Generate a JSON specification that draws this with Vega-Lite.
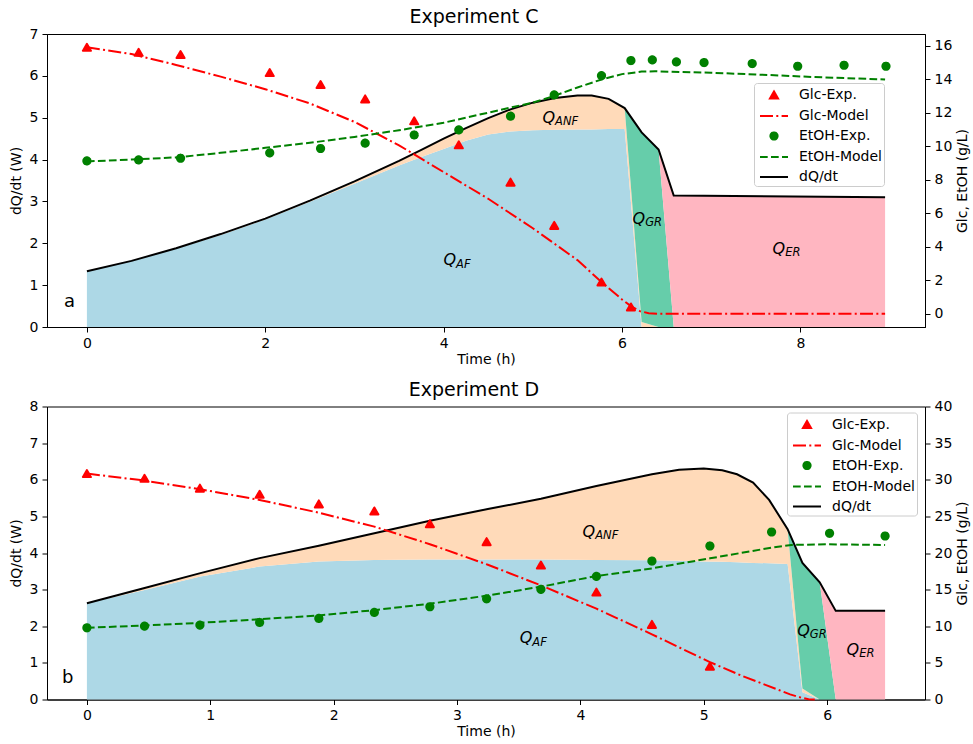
{
  "$schema": "https://vega.github.io/schema/vega-lite/v6.json",
  "background": "white",
  "padding": {"left": 8, "top": 7, "right": 0, "bottom": 0},
  "spacing": 12.5,
  "config": {
    "font": "DejaVu Sans",
    "view": {"stroke": "black", "strokeWidth": 1},
    "axis": {"domainColor": "black", "tickColor": "black", "labelColor": "black", "titleColor": "black", "labelFontSize": 14, "titleFontSize": 14, "titleFontWeight": "normal", "tickSize": 5, "labelPadding": 4, "titlePadding": 6, "grid": false, "domainWidth": 1, "tickWidth": 1},
    "axisX": {"titlePadding": 2},
    "title": {"fontSize": 19, "fontWeight": "normal", "color": "black"},
    "legend": {"title": null, "fillColor": "rgba(255,255,255,0.8)", "strokeColor": "#cccccc", "cornerRadius": 3, "padding": 2, "labelFontSize": 14, "labelColor": "black", "symbolSize": 324, "symbolStrokeWidth": 2, "symbolOffset": 8, "labelOffset": 15, "rowPadding": 3}
  },
  "datasets": {
    "c_area": [
      {"t": 0, "af": 1.33, "anf": 1.33, "gr": 1.33, "dq": 1.33},
      {"t": 0.5, "af": 1.58, "anf": 1.58, "gr": 1.58, "dq": 1.58},
      {"t": 1.0, "af": 1.87, "anf": 1.88, "gr": 1.88, "dq": 1.88},
      {"t": 1.5, "af": 2.2, "anf": 2.22, "gr": 2.22, "dq": 2.22},
      {"t": 2.0, "af": 2.57, "anf": 2.59, "gr": 2.59, "dq": 2.59},
      {"t": 2.5, "af": 2.99, "anf": 3.02, "gr": 3.02, "dq": 3.02},
      {"t": 3.0, "af": 3.42, "anf": 3.48, "gr": 3.48, "dq": 3.48},
      {"t": 3.5, "af": 3.86, "anf": 3.97, "gr": 3.97, "dq": 3.97},
      {"t": 3.75, "af": 4.06, "anf": 4.23, "gr": 4.23, "dq": 4.23},
      {"t": 4.0, "af": 4.25, "anf": 4.5, "gr": 4.5, "dq": 4.5},
      {"t": 4.25, "af": 4.45, "anf": 4.75, "gr": 4.75, "dq": 4.75},
      {"t": 4.5, "af": 4.6, "anf": 4.99, "gr": 4.99, "dq": 4.99},
      {"t": 4.75, "af": 4.67, "anf": 5.2, "gr": 5.2, "dq": 5.2},
      {"t": 5.0, "af": 4.7, "anf": 5.36, "gr": 5.36, "dq": 5.36},
      {"t": 5.25, "af": 4.71, "anf": 5.47, "gr": 5.47, "dq": 5.47},
      {"t": 5.5, "af": 4.72, "anf": 5.53, "gr": 5.53, "dq": 5.53},
      {"t": 5.66, "af": 4.72, "anf": 5.53, "gr": 5.53, "dq": 5.53},
      {"t": 5.85, "af": 4.73, "anf": 5.45, "gr": 5.45, "dq": 5.45},
      {"t": 6.03, "af": 4.73, "anf": 5.23, "gr": 5.23, "dq": 5.23},
      {"t": 6.22, "af": 0, "anf": 0.12, "gr": 4.65, "dq": 4.65},
      {"t": 6.41, "af": 0, "anf": 0, "gr": 4.24, "dq": 4.24},
      {"t": 6.58, "af": 0, "anf": 0, "gr": 0, "dq": 3.14},
      {"t": 8.95, "af": 0, "anf": 0, "gr": 0, "dq": 3.1}
    ],
    "c_glc_model": [
      {"t": 0, "v": 15.9}, {"t": 0.5, "v": 15.5}, {"t": 1.0, "v": 14.85}, {"t": 1.5, "v": 14.15},
      {"t": 2.0, "v": 13.4}, {"t": 2.5, "v": 12.55}, {"t": 3.0, "v": 11.45}, {"t": 3.5, "v": 10.05},
      {"t": 4.0, "v": 8.45}, {"t": 4.5, "v": 6.86}, {"t": 5.0, "v": 5.1}, {"t": 5.5, "v": 3.2},
      {"t": 5.77, "v": 1.89}, {"t": 6.0, "v": 0.85}, {"t": 6.1, "v": 0.45}, {"t": 6.2, "v": 0.15},
      {"t": 6.3, "v": 0.03}, {"t": 6.4, "v": 0}, {"t": 8.95, "v": 0}
    ],
    "c_etoh_model": [
      {"t": 0, "v": 9.09}, {"t": 0.5, "v": 9.2}, {"t": 1.0, "v": 9.33}, {"t": 1.5, "v": 9.6},
      {"t": 2.0, "v": 9.9}, {"t": 2.5, "v": 10.2}, {"t": 3.0, "v": 10.55}, {"t": 3.5, "v": 10.95},
      {"t": 4.0, "v": 11.4}, {"t": 4.5, "v": 12.0}, {"t": 5.0, "v": 12.6}, {"t": 5.24, "v": 13.0},
      {"t": 5.5, "v": 13.5}, {"t": 5.77, "v": 13.98}, {"t": 6.0, "v": 14.3}, {"t": 6.22, "v": 14.45},
      {"t": 6.37, "v": 14.47}, {"t": 7.0, "v": 14.38}, {"t": 7.5, "v": 14.28}, {"t": 8.13, "v": 14.13},
      {"t": 8.95, "v": 13.98}
    ],
    "c_exp": [
      {"t": 0, "v": 15.9, "series": "Glc-Exp."},
      {"t": 0.58, "v": 15.6, "series": "Glc-Exp."},
      {"t": 1.05, "v": 15.47, "series": "Glc-Exp."},
      {"t": 2.05, "v": 14.39, "series": "Glc-Exp."},
      {"t": 2.62, "v": 13.68, "series": "Glc-Exp."},
      {"t": 3.12, "v": 12.82, "series": "Glc-Exp."},
      {"t": 3.67, "v": 11.51, "series": "Glc-Exp."},
      {"t": 4.17, "v": 10.08, "series": "Glc-Exp."},
      {"t": 4.75, "v": 7.85, "series": "Glc-Exp."},
      {"t": 5.24, "v": 5.27, "series": "Glc-Exp."},
      {"t": 5.77, "v": 1.89, "series": "Glc-Exp."},
      {"t": 6.1, "v": 0.4, "series": "Glc-Exp."},
      {"t": 0, "v": 9.12, "series": "EtOH-Exp."},
      {"t": 0.58, "v": 9.18, "series": "EtOH-Exp."},
      {"t": 1.05, "v": 9.28, "series": "EtOH-Exp."},
      {"t": 2.05, "v": 9.6, "series": "EtOH-Exp."},
      {"t": 2.62, "v": 9.86, "series": "EtOH-Exp."},
      {"t": 3.12, "v": 10.18, "series": "EtOH-Exp."},
      {"t": 3.67, "v": 10.67, "series": "EtOH-Exp."},
      {"t": 4.17, "v": 10.97, "series": "EtOH-Exp."},
      {"t": 4.75, "v": 11.79, "series": "EtOH-Exp."},
      {"t": 5.24, "v": 13.06, "series": "EtOH-Exp."},
      {"t": 5.77, "v": 14.21, "series": "EtOH-Exp."},
      {"t": 6.1, "v": 15.11, "series": "EtOH-Exp."},
      {"t": 6.34, "v": 15.15, "series": "EtOH-Exp."},
      {"t": 6.61, "v": 15.03, "series": "EtOH-Exp."},
      {"t": 6.92, "v": 14.99, "series": "EtOH-Exp."},
      {"t": 7.46, "v": 14.93, "series": "EtOH-Exp."},
      {"t": 7.97, "v": 14.77, "series": "EtOH-Exp."},
      {"t": 8.49, "v": 14.83, "series": "EtOH-Exp."},
      {"t": 8.96, "v": 14.77, "series": "EtOH-Exp."}
    ],
    "c_labels": [
      {"t": 4.14, "v": 1.47, "q": "Q", "sub": "AF"},
      {"t": 5.25, "v": 4.88, "q": "Q", "sub": "ANF"},
      {"t": 6.26, "v": 2.47, "q": "Q", "sub": "GR"},
      {"t": 7.83, "v": 1.75, "q": "Q", "sub": "ER"}
    ],
    "c_letter": [{"t": -0.194, "v": 0.477, "txt": "a"}],
    "d_area": [
      {"t": 0, "af": 2.63, "anf": 2.63, "gr": 2.63, "dq": 2.63},
      {"t": 0.46, "af": 2.98, "anf": 3.04, "gr": 3.04, "dq": 3.04},
      {"t": 0.92, "af": 3.36, "anf": 3.45, "gr": 3.45, "dq": 3.45},
      {"t": 1.4, "af": 3.63, "anf": 3.86, "gr": 3.86, "dq": 3.86},
      {"t": 1.88, "af": 3.77, "anf": 4.2, "gr": 4.2, "dq": 4.2},
      {"t": 2.33, "af": 3.81, "anf": 4.54, "gr": 4.54, "dq": 4.54},
      {"t": 2.78, "af": 3.82, "anf": 4.88, "gr": 4.88, "dq": 4.88},
      {"t": 3.25, "af": 3.82, "anf": 5.2, "gr": 5.2, "dq": 5.2},
      {"t": 3.68, "af": 3.82, "anf": 5.48, "gr": 5.48, "dq": 5.48},
      {"t": 4.13, "af": 3.81, "anf": 5.83, "gr": 5.83, "dq": 5.83},
      {"t": 4.58, "af": 3.8, "anf": 6.15, "gr": 6.15, "dq": 6.15},
      {"t": 4.8, "af": 3.79, "anf": 6.27, "gr": 6.27, "dq": 6.27},
      {"t": 5.0, "af": 3.77, "anf": 6.31, "gr": 6.31, "dq": 6.31},
      {"t": 5.15, "af": 3.76, "anf": 6.26, "gr": 6.26, "dq": 6.26},
      {"t": 5.27, "af": 3.75, "anf": 6.15, "gr": 6.15, "dq": 6.15},
      {"t": 5.4, "af": 3.73, "anf": 5.92, "gr": 5.92, "dq": 5.92},
      {"t": 5.53, "af": 3.72, "anf": 5.45, "gr": 5.45, "dq": 5.45},
      {"t": 5.68, "af": 3.7, "anf": 4.65, "gr": 4.65, "dq": 4.65},
      {"t": 5.8, "af": 0.2, "anf": 0.3, "gr": 3.73, "dq": 3.73},
      {"t": 5.94, "af": 0, "anf": 0, "gr": 3.2, "dq": 3.2},
      {"t": 6.07, "af": 0, "anf": 0, "gr": 0, "dq": 2.42},
      {"t": 6.47, "af": 0, "anf": 0, "gr": 0, "dq": 2.42}
    ],
    "d_glc_model": [
      {"t": 0, "v": 30.84}, {"t": 0.46, "v": 29.9}, {"t": 0.92, "v": 28.7}, {"t": 1.4, "v": 27.24},
      {"t": 1.88, "v": 25.5}, {"t": 2.33, "v": 23.6}, {"t": 2.78, "v": 21.2}, {"t": 3.25, "v": 18.4},
      {"t": 3.68, "v": 15.58}, {"t": 4.13, "v": 12.4}, {"t": 4.58, "v": 8.9}, {"t": 5.05, "v": 5.1},
      {"t": 5.3, "v": 3.3}, {"t": 5.5, "v": 2.0}, {"t": 5.7, "v": 0.7}, {"t": 5.8, "v": 0.2},
      {"t": 5.85, "v": 0.05}, {"t": 5.9, "v": 0}
    ],
    "d_etoh_model": [
      {"t": 0, "v": 9.79}, {"t": 0.46, "v": 10.1}, {"t": 0.92, "v": 10.47}, {"t": 1.4, "v": 10.95},
      {"t": 1.88, "v": 11.48}, {"t": 2.33, "v": 12.2}, {"t": 2.78, "v": 13.07}, {"t": 3.25, "v": 14.2},
      {"t": 3.68, "v": 15.4}, {"t": 4.13, "v": 16.86}, {"t": 4.58, "v": 17.9}, {"t": 5.05, "v": 19.27},
      {"t": 5.55, "v": 20.73}, {"t": 5.71, "v": 21.1}, {"t": 6.0, "v": 21.19}, {"t": 6.47, "v": 21.1}
    ],
    "d_exp": [
      {"t": 0, "v": 30.84, "series": "Glc-Exp."},
      {"t": 0.467, "v": 30.2, "series": "Glc-Exp."},
      {"t": 0.916, "v": 28.85, "series": "Glc-Exp."},
      {"t": 1.4, "v": 28.02, "series": "Glc-Exp."},
      {"t": 1.88, "v": 26.7, "series": "Glc-Exp."},
      {"t": 2.33, "v": 25.74, "series": "Glc-Exp."},
      {"t": 2.78, "v": 24.0, "series": "Glc-Exp."},
      {"t": 3.24, "v": 21.55, "series": "Glc-Exp."},
      {"t": 3.68, "v": 18.36, "series": "Glc-Exp."},
      {"t": 4.13, "v": 14.67, "series": "Glc-Exp."},
      {"t": 4.58, "v": 10.25, "series": "Glc-Exp."},
      {"t": 5.05, "v": 4.55, "series": "Glc-Exp."},
      {"t": 0, "v": 9.79, "series": "EtOH-Exp."},
      {"t": 0.467, "v": 10.02, "series": "EtOH-Exp."},
      {"t": 0.916, "v": 10.16, "series": "EtOH-Exp."},
      {"t": 1.4, "v": 10.52, "series": "EtOH-Exp."},
      {"t": 1.88, "v": 11.07, "series": "EtOH-Exp."},
      {"t": 2.33, "v": 11.89, "series": "EtOH-Exp."},
      {"t": 2.78, "v": 12.66, "series": "EtOH-Exp."},
      {"t": 3.24, "v": 13.75, "series": "EtOH-Exp."},
      {"t": 3.68, "v": 15.04, "series": "EtOH-Exp."},
      {"t": 4.13, "v": 16.81, "series": "EtOH-Exp."},
      {"t": 4.58, "v": 18.9, "series": "EtOH-Exp."},
      {"t": 5.05, "v": 20.96, "series": "EtOH-Exp."},
      {"t": 5.55, "v": 22.87, "series": "EtOH-Exp."},
      {"t": 6.02, "v": 22.69, "series": "EtOH-Exp."},
      {"t": 6.47, "v": 22.32, "series": "EtOH-Exp."}
    ],
    "d_labels": [
      {"t": 3.61, "v": 1.54, "q": "Q", "sub": "AF"},
      {"t": 4.12, "v": 4.45, "q": "Q", "sub": "ANF"},
      {"t": 5.86, "v": 1.74, "q": "Q", "sub": "GR"},
      {"t": 6.26, "v": 1.22, "q": "Q", "sub": "ER"}
    ],
    "d_letter": [{"t": -0.156, "v": 0.445, "txt": "b"}]
  },
  "vconcat": [
    {
      "width": 878,
      "height": 293,
      "title": {"text": "Experiment C", "offset": 0, "dx": -12},
      "encoding": {
        "x": {"field": "t", "type": "quantitative", "scale": {"domain": [-0.4475, 9.3975], "nice": false, "zero": false}, "axis": {"values": [0, 2, 4, 6, 8], "title": "Time (h)"}}
      },
      "layer": [
        {
          "layer": [
            {"data": {"name": "c_area"}, "mark": {"type": "area", "color": "#add8e6", "opacity": 1},
             "encoding": {"y": {"field": "af", "type": "quantitative", "scale": {"domain": [0, 7], "nice": false, "zero": false}, "axis": {"orient": "left", "values": [0, 1, 2, 3, 4, 5, 6, 7], "title": "dQ/dt (W)"}}}},
            {"data": {"name": "c_area"}, "mark": {"type": "area", "color": "#ffdab9", "opacity": 1},
             "encoding": {"y": {"field": "anf", "type": "quantitative", "scale": {"domain": [0, 7], "nice": false, "zero": false}, "axis": {"orient": "left", "values": [0, 1, 2, 3, 4, 5, 6, 7], "title": "dQ/dt (W)"}}, "y2": {"field": "af"}}},
            {"data": {"name": "c_area"}, "mark": {"type": "area", "color": "#66cdaa", "opacity": 1},
             "encoding": {"y": {"field": "gr", "type": "quantitative", "scale": {"domain": [0, 7], "nice": false, "zero": false}, "axis": {"orient": "left", "values": [0, 1, 2, 3, 4, 5, 6, 7], "title": "dQ/dt (W)"}}, "y2": {"field": "anf"}}},
            {"data": {"name": "c_area"}, "mark": {"type": "area", "color": "#ffb6c1", "opacity": 1},
             "encoding": {"y": {"field": "dq", "type": "quantitative", "scale": {"domain": [0, 7], "nice": false, "zero": false}, "axis": {"orient": "left", "values": [0, 1, 2, 3, 4, 5, 6, 7], "title": "dQ/dt (W)"}}, "y2": {"field": "gr"}}},
            {"data": {"name": "c_area"}, "mark": {"type": "line", "color": "black", "strokeWidth": 2},
             "encoding": {"y": {"field": "dq", "type": "quantitative", "scale": {"domain": [0, 7], "nice": false, "zero": false}, "axis": {"orient": "left", "values": [0, 1, 2, 3, 4, 5, 6, 7], "title": "dQ/dt (W)"}}}},
            {"data": {"name": "c_labels"}, "mark": {"type": "text", "align": "right", "baseline": "alphabetic", "fontSize": 16, "fontStyle": "italic", "color": "black"},
             "encoding": {"y": {"field": "v", "type": "quantitative", "scale": {"domain": [0, 7], "nice": false, "zero": false}, "axis": {"orient": "left", "values": [0, 1, 2, 3, 4, 5, 6, 7], "title": "dQ/dt (W)"}}, "text": {"field": "q"}}},
            {"data": {"name": "c_labels"}, "mark": {"type": "text", "align": "left", "baseline": "alphabetic", "fontSize": 11.5, "fontStyle": "italic", "color": "black", "dy": 2.5},
             "encoding": {"y": {"field": "v", "type": "quantitative", "scale": {"domain": [0, 7], "nice": false, "zero": false}, "axis": {"orient": "left", "values": [0, 1, 2, 3, 4, 5, 6, 7], "title": "dQ/dt (W)"}}, "text": {"field": "sub"}}},
            {"data": {"name": "c_letter"}, "mark": {"type": "text", "align": "center", "baseline": "alphabetic", "fontSize": 18, "color": "black"},
             "encoding": {"y": {"field": "v", "type": "quantitative", "scale": {"domain": [0, 7], "nice": false, "zero": false}, "axis": {"orient": "left", "values": [0, 1, 2, 3, 4, 5, 6, 7], "title": "dQ/dt (W)"}}, "text": {"field": "txt"}}}
          ]
        },
        {
          "layer": [
            {"data": {"name": "c_glc_model"}, "mark": {"type": "line", "color": "#ff0000", "strokeWidth": 2, "strokeDash": [13, 3.3, 2, 3.3]},
             "encoding": {"y": {"field": "v", "type": "quantitative", "scale": {"domain": [-0.795, 16.695], "nice": false, "zero": false}, "axis": {"orient": "right", "values": [0, 2, 4, 6, 8, 10, 12, 14, 16], "title": "Glc, EtOH (g/L)", "titleAngle": 270, "titleBaseline": "top", "titlePadding": 4}}}},
            {"data": {"name": "c_etoh_model"}, "mark": {"type": "line", "color": "#008000", "strokeWidth": 2, "strokeDash": [7.7, 3.3]},
             "encoding": {"y": {"field": "v", "type": "quantitative", "scale": {"domain": [-0.795, 16.695], "nice": false, "zero": false}, "axis": {"orient": "right", "values": [0, 2, 4, 6, 8, 10, 12, 14, 16], "title": "Glc, EtOH (g/L)", "titleAngle": 270, "titleBaseline": "top", "titlePadding": 4}}}},
            {"data": {"name": "c_exp"}, "mark": {"type": "point", "filled": true, "size": 324, "opacity": 1, "strokeWidth": 2, "strokeJoin": "round"},
             "encoding": {
               "y": {"field": "v", "type": "quantitative", "scale": {"domain": [-0.795, 16.695], "nice": false, "zero": false}, "axis": {"orient": "right", "values": [0, 2, 4, 6, 8, 10, 12, 14, 16], "title": "Glc, EtOH (g/L)", "titleAngle": 270, "titleBaseline": "top", "titlePadding": 4}},
               "color": {"field": "series", "type": "nominal",
                 "scale": {"domain": ["Glc-Exp.", "Glc-Model", "EtOH-Exp.", "EtOH-Model", "dQ/dt"], "range": ["#ff0000", "#ff0000", "#008000", "#008000", "#000000"]},
                 "legend": {"orient": "none", "legendX": 707, "legendY": 49}},
               "stroke": {"field": "series", "type": "nominal",
                 "scale": {"domain": ["Glc-Exp.", "Glc-Model", "EtOH-Exp.", "EtOH-Model", "dQ/dt"], "range": ["#ff0000", "#ff0000", "#008000", "#008000", "#000000"]},
                 "legend": {"orient": "none", "legendX": 707, "legendY": 49}},
               "shape": {"field": "series", "type": "nominal",
                 "scale": {"domain": ["Glc-Exp.", "Glc-Model", "EtOH-Exp.", "EtOH-Model", "dQ/dt"], "range": ["M0,-0.39L0.45,0.39L-0.45,0.39Z", "M-1.556,0L1.556,0", "M0.4,0C0.4,0.221,0.221,0.4,0,0.4C-0.221,0.4,-0.4,0.221,-0.4,0C-0.4,-0.221,-0.221,-0.4,0,-0.4C0.221,-0.4,0.4,-0.221,0.4,0Z", "M-1.556,0L1.556,0", "M-1.556,0L1.556,0"]},
                 "legend": {"orient": "none", "legendX": 707, "legendY": 49}},
               "strokeDash": {"field": "series", "type": "nominal",
                 "scale": {"domain": ["Glc-Exp.", "Glc-Model", "EtOH-Exp.", "EtOH-Model", "dQ/dt"], "range": [[1, 0], [13, 3.3, 2, 3.3], [1, 0], [7.7, 3.3], [1, 0]]},
                 "legend": {"orient": "none", "legendX": 707, "legendY": 49}}
             }}
          ]
        }
      ],
      "resolve": {"scale": {"y": "independent"}}
    },
    {
      "width": 878,
      "height": 293,
      "title": {"text": "Experiment D", "offset": 0, "dx": -12},
      "encoding": {
        "x": {"field": "t", "type": "quantitative", "scale": {"domain": [-0.3235, 6.7935], "nice": false, "zero": false}, "axis": {"values": [0, 1, 2, 3, 4, 5, 6], "title": "Time (h)"}}
      },
      "layer": [
        {
          "layer": [
            {"data": {"name": "d_area"}, "mark": {"type": "area", "color": "#add8e6", "opacity": 1},
             "encoding": {"y": {"field": "af", "type": "quantitative", "scale": {"domain": [0, 8], "nice": false, "zero": false}, "axis": {"orient": "left", "values": [0, 1, 2, 3, 4, 5, 6, 7, 8], "title": "dQ/dt (W)"}}}},
            {"data": {"name": "d_area"}, "mark": {"type": "area", "color": "#ffdab9", "opacity": 1},
             "encoding": {"y": {"field": "anf", "type": "quantitative", "scale": {"domain": [0, 8], "nice": false, "zero": false}, "axis": {"orient": "left", "values": [0, 1, 2, 3, 4, 5, 6, 7, 8], "title": "dQ/dt (W)"}}, "y2": {"field": "af"}}},
            {"data": {"name": "d_area"}, "mark": {"type": "area", "color": "#66cdaa", "opacity": 1},
             "encoding": {"y": {"field": "gr", "type": "quantitative", "scale": {"domain": [0, 8], "nice": false, "zero": false}, "axis": {"orient": "left", "values": [0, 1, 2, 3, 4, 5, 6, 7, 8], "title": "dQ/dt (W)"}}, "y2": {"field": "anf"}}},
            {"data": {"name": "d_area"}, "mark": {"type": "area", "color": "#ffb6c1", "opacity": 1},
             "encoding": {"y": {"field": "dq", "type": "quantitative", "scale": {"domain": [0, 8], "nice": false, "zero": false}, "axis": {"orient": "left", "values": [0, 1, 2, 3, 4, 5, 6, 7, 8], "title": "dQ/dt (W)"}}, "y2": {"field": "gr"}}},
            {"data": {"name": "d_area"}, "mark": {"type": "line", "color": "black", "strokeWidth": 2},
             "encoding": {"y": {"field": "dq", "type": "quantitative", "scale": {"domain": [0, 8], "nice": false, "zero": false}, "axis": {"orient": "left", "values": [0, 1, 2, 3, 4, 5, 6, 7, 8], "title": "dQ/dt (W)"}}}},
            {"data": {"name": "d_labels"}, "mark": {"type": "text", "align": "right", "baseline": "alphabetic", "fontSize": 16, "fontStyle": "italic", "color": "black"},
             "encoding": {"y": {"field": "v", "type": "quantitative", "scale": {"domain": [0, 8], "nice": false, "zero": false}, "axis": {"orient": "left", "values": [0, 1, 2, 3, 4, 5, 6, 7, 8], "title": "dQ/dt (W)"}}, "text": {"field": "q"}}},
            {"data": {"name": "d_labels"}, "mark": {"type": "text", "align": "left", "baseline": "alphabetic", "fontSize": 11.5, "fontStyle": "italic", "color": "black", "dy": 2.5},
             "encoding": {"y": {"field": "v", "type": "quantitative", "scale": {"domain": [0, 8], "nice": false, "zero": false}, "axis": {"orient": "left", "values": [0, 1, 2, 3, 4, 5, 6, 7, 8], "title": "dQ/dt (W)"}}, "text": {"field": "sub"}}},
            {"data": {"name": "d_letter"}, "mark": {"type": "text", "align": "center", "baseline": "alphabetic", "fontSize": 18, "color": "black"},
             "encoding": {"y": {"field": "v", "type": "quantitative", "scale": {"domain": [0, 8], "nice": false, "zero": false}, "axis": {"orient": "left", "values": [0, 1, 2, 3, 4, 5, 6, 7, 8], "title": "dQ/dt (W)"}}, "text": {"field": "txt"}}}
          ]
        },
        {
          "layer": [
            {"data": {"name": "d_glc_model"}, "mark": {"type": "line", "color": "#ff0000", "strokeWidth": 2, "strokeDash": [13, 3.3, 2, 3.3]},
             "encoding": {"y": {"field": "v", "type": "quantitative", "scale": {"domain": [0, 40], "nice": false, "zero": false}, "axis": {"orient": "right", "values": [0, 5, 10, 15, 20, 25, 30, 35, 40], "title": "Glc, EtOH (g/L)", "titleAngle": 270, "titleBaseline": "top", "titlePadding": 4}}}},
            {"data": {"name": "d_etoh_model"}, "mark": {"type": "line", "color": "#008000", "strokeWidth": 2, "strokeDash": [7.7, 3.3]},
             "encoding": {"y": {"field": "v", "type": "quantitative", "scale": {"domain": [0, 40], "nice": false, "zero": false}, "axis": {"orient": "right", "values": [0, 5, 10, 15, 20, 25, 30, 35, 40], "title": "Glc, EtOH (g/L)", "titleAngle": 270, "titleBaseline": "top", "titlePadding": 4}}}},
            {"data": {"name": "d_exp"}, "mark": {"type": "point", "filled": true, "size": 324, "opacity": 1, "strokeWidth": 2, "strokeJoin": "round"},
             "encoding": {
               "y": {"field": "v", "type": "quantitative", "scale": {"domain": [0, 40], "nice": false, "zero": false}, "axis": {"orient": "right", "values": [0, 5, 10, 15, 20, 25, 30, 35, 40], "title": "Glc, EtOH (g/L)", "titleAngle": 270, "titleBaseline": "top", "titlePadding": 4}},
               "color": {"field": "series", "type": "nominal",
                 "scale": {"domain": ["Glc-Exp.", "Glc-Model", "EtOH-Exp.", "EtOH-Model", "dQ/dt"], "range": ["#ff0000", "#ff0000", "#008000", "#008000", "#000000"]},
                 "legend": {"orient": "none", "legendX": 740, "legendY": 6}},
               "stroke": {"field": "series", "type": "nominal",
                 "scale": {"domain": ["Glc-Exp.", "Glc-Model", "EtOH-Exp.", "EtOH-Model", "dQ/dt"], "range": ["#ff0000", "#ff0000", "#008000", "#008000", "#000000"]},
                 "legend": {"orient": "none", "legendX": 740, "legendY": 6}},
               "shape": {"field": "series", "type": "nominal",
                 "scale": {"domain": ["Glc-Exp.", "Glc-Model", "EtOH-Exp.", "EtOH-Model", "dQ/dt"], "range": ["M0,-0.39L0.45,0.39L-0.45,0.39Z", "M-1.556,0L1.556,0", "M0.4,0C0.4,0.221,0.221,0.4,0,0.4C-0.221,0.4,-0.4,0.221,-0.4,0C-0.4,-0.221,-0.221,-0.4,0,-0.4C0.221,-0.4,0.4,-0.221,0.4,0Z", "M-1.556,0L1.556,0", "M-1.556,0L1.556,0"]},
                 "legend": {"orient": "none", "legendX": 740, "legendY": 6}},
               "strokeDash": {"field": "series", "type": "nominal",
                 "scale": {"domain": ["Glc-Exp.", "Glc-Model", "EtOH-Exp.", "EtOH-Model", "dQ/dt"], "range": [[1, 0], [13, 3.3, 2, 3.3], [1, 0], [7.7, 3.3], [1, 0]]},
                 "legend": {"orient": "none", "legendX": 740, "legendY": 6}}
             }}
          ]
        }
      ],
      "resolve": {"scale": {"y": "independent"}}
    }
  ],
  "resolve": {"scale": {"x": "independent", "y": "independent", "color": "independent", "shape": "independent", "stroke": "independent", "strokeDash": "independent"}, "legend": {"color": "independent", "shape": "independent", "stroke": "independent", "strokeDash": "independent"}}
}
